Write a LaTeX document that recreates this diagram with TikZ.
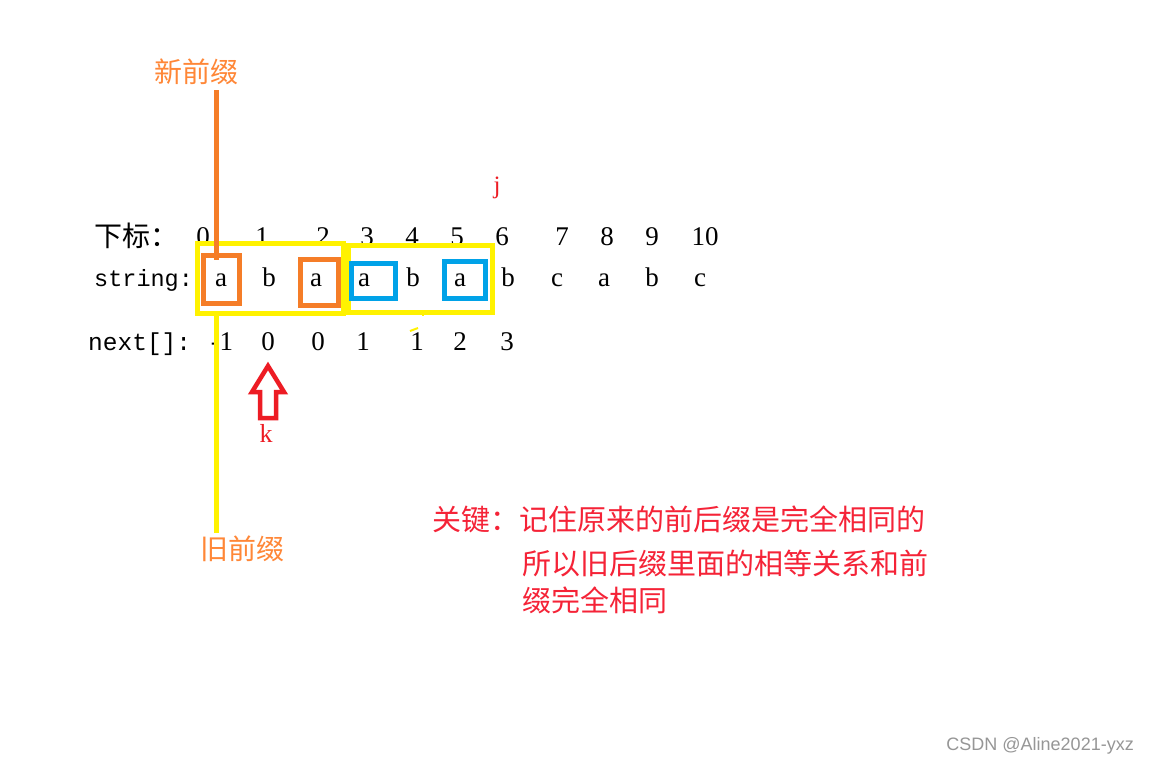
\documentclass[tikz,border=0pt]{standalone}
\usepackage{fontspec}
\setmainfont{Liberation Serif}
\newfontfamily\cjk{Noto Sans CJK SC}
\newfontfamily\monof{Liberation Mono}
\newfontfamily\wmf{Liberation Sans}
\definecolor{pyellow}{RGB}{255,242,0}
\definecolor{porange}{RGB}{245,125,40}
\definecolor{porangetxt}{RGB}{255,135,55}
\definecolor{pblue}{RGB}{0,162,232}
\definecolor{pred}{RGB}{237,28,36}
\definecolor{predtxt}{RGB}{245,35,55}
\definecolor{wmgray}{RGB}{150,150,150}
\tikzset{
  glyph/.style={inner sep=0pt, anchor=base, font=\fontsize{27}{30}\selectfont},
  rowlbl/.style={inner sep=0pt, anchor=base west, font=\monof\fontsize{23.5}{26}\selectfont},
  cjklbl/.style={inner sep=0pt, font=\cjk\fontsize{28}{30}\selectfont},
  yellowbox/.style={draw=pyellow, line width=5pt},
  orangebox/.style={draw=porange, line width=5pt},
  bluebox/.style={draw=pblue, line width=5pt},
  keytext/.style={inner sep=0pt, anchor=west, text=predtxt, font=\cjk\fontsize{29}{31}\selectfont},
}
\begin{document}
\begin{tikzpicture}[x=1pt,y=-1pt]
\useasboundingbox[fill=white] (0,0) rectangle (1149,766);

% labels
\node[cjklbl, text=porangetxt] (newpre) at (196,72) {新前缀};
\node[cjklbl, text=porangetxt] (oldpre) at (242,549) {旧前缀};

% index row
\node[cjklbl, anchor=west] (idxlbl) at (94,236) {下标：};
\foreach \x/\t [count=\i from 0] in {203/0,262/1,323/2,367/3,412/4,457/5,502/6,562/7,607/8,652/9,705/10}
  \node[glyph] (i\i) at (\x,245) {\t};
\node[glyph, text=pred, font=\fontsize{25}{27}\selectfont] (j) at (497,193) {j};

% string row
\node[rowlbl] (strlbl) at (94,286) {string:};
\foreach \x/\t [count=\i from 0] in {221/a,269/b,316/a,364/a,413/b,460/a,508/b,557/c,604/a,652/b,700/c}
  \node[glyph] (s\i) at (\x,286) {\t};

% next row
\node[rowlbl, font=\monof\fontsize{24.5}{26}\selectfont] (nxtlbl) at (88,350) {next[]:};
\foreach \x/\t [count=\i from 0] in {222/-1,268/0,318/0,363/1,417/1,460/2,507/3}
  \node[glyph] (n\i) at (\x,350) {\t};

% boxes
\node[yellowbox, inner sep=0pt, minimum width=146pt, minimum height=70pt] (yb1) at (270,278) {};
\node[yellowbox, inner sep=0pt, minimum width=144pt, minimum height=67pt] (yb2) at (420,278.5) {};
\node[orangebox, inner sep=0pt, minimum width=36pt, minimum height=48pt] (ob1) at (221,279) {};
\node[orangebox, inner sep=0pt, minimum width=38pt, minimum height=46pt] (ob2) at (319,282) {};
\node[bluebox, inner sep=0pt, minimum width=44pt, minimum height=35pt] (bb1) at (373,280.5) {};
\node[bluebox, inner sep=0pt, minimum width=41pt, minimum height=37pt] (bb2) at (464.5,279.5) {};

% prefix connectors
\coordinate (otop) at (216,90);
\coordinate (obot) at (216,260);
\draw[porange, line width=5pt] (otop) -- (obot);
\coordinate (ytop) at (216,313);
\coordinate (ybot) at (216,533);
\draw[pyellow, line width=5pt] (ytop) -- (ybot);

% small yellow marks
\coordinate (ym1) at (423,311);
\coordinate (ym2) at (423,316);
\draw[pyellow, line width=2pt] (ym1) -- (ym2);
\coordinate (ym3) at (410,331);
\coordinate (ym4) at (418,328);
\draw[pyellow, line width=2pt] (ym3) -- (ym4);

% k arrow
\draw[pred, line width=4.5pt, line join=miter, fill=white]
  (268,366) -- (284,392) -- (276,392) -- (276,418) -- (260,418) -- (260,392) -- (252,392) -- cycle;
\node[glyph, text=pred, font=\fontsize{26}{28}\selectfont] (k) at (266,442) {k};

% key text
\node[keytext] (key1) at (432,519) {关键：记住原来的前后缀是完全相同的};
\node[keytext] (key2) at (522,563) {所以旧后缀里面的相等关系和前};
\node[keytext] (key3) at (522,600) {缀完全相同};

% watermark
\node[inner sep=0pt, anchor=east, text=wmgray, font=\wmf\fontsize{18}{20}\selectfont] (wm) at (1134,746) {CSDN @Aline2021-yxz};
\end{tikzpicture}
\end{document}
